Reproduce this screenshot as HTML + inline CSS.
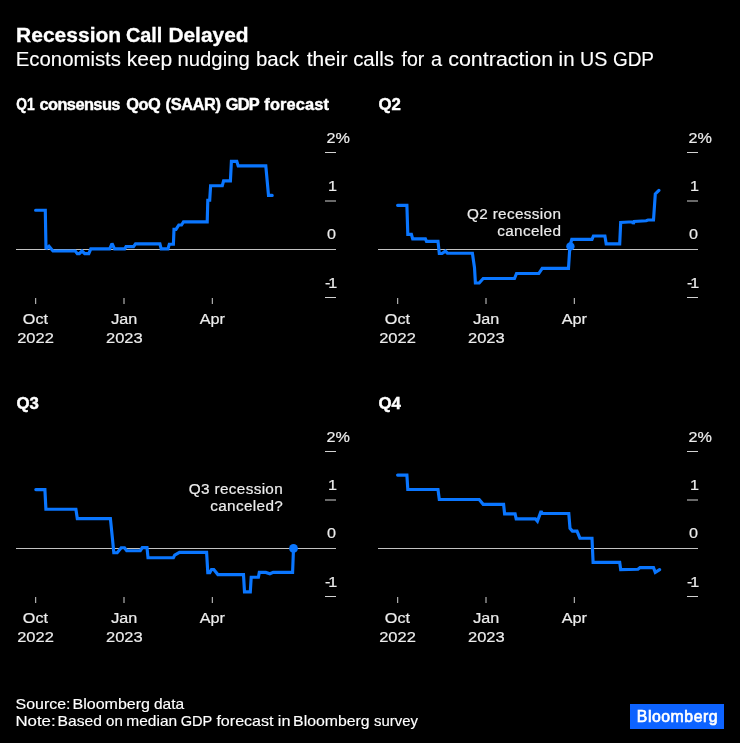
<!DOCTYPE html>
<html><head><meta charset="utf-8"><title>Recession Call Delayed</title>
<style>
html,body{margin:0;padding:0;background:#000;}
body{width:740px;height:743px;overflow:hidden;position:relative;font-family:"Liberation Sans",sans-serif;}
svg{position:absolute;left:0;top:0;display:block}
text{font-family:"Liberation Sans",sans-serif;}
.h1{font-weight:bold;font-size:20px;fill:#fff;stroke:#fff;stroke-width:0.3px}
.h2{font-size:19.5px;fill:#fff;stroke:#fff;stroke-width:0.12px}
.pt{font-weight:bold;font-size:16.4px;fill:#fff;stroke:#fff;stroke-width:0.45px}
.lb{font-size:15.5px;fill:#ececec;stroke:#ececec;stroke-width:0.2px}
.an{font-size:15.3px;fill:#ececec;letter-spacing:0.35px;stroke:#ececec;stroke-width:0.2px}
.ft{font-size:15px;fill:#fff;stroke:#fff;stroke-width:0.15px}
.ax{stroke:#d2d2d2;stroke-width:1;shape-rendering:crispEdges}
.ln{fill:none;stroke:#0a76ff;stroke-width:3.15;stroke-linejoin:miter;stroke-miterlimit:2;stroke-linecap:round}
.lg{font-size:15.8px;fill:#fff;letter-spacing:0.55px;stroke:#fff;stroke-width:0.65px}
</style></head>
<body>
<svg width="740" height="743" viewBox="0 0 740 743">
<rect width="740" height="743" fill="#000"/>
<text y="41.8" class="h1"><tspan x="16.12" textLength="105.04" lengthAdjust="spacingAndGlyphs">Recession</tspan> <tspan x="125.97" textLength="36.39" lengthAdjust="spacingAndGlyphs">Call</tspan> <tspan x="168.41" textLength="80.17" lengthAdjust="spacingAndGlyphs">Delayed</tspan></text>
<text y="66.4" class="h2"><tspan x="15.80" textLength="105.09" lengthAdjust="spacingAndGlyphs">Economists</tspan> <tspan x="126.74" textLength="45.59" lengthAdjust="spacingAndGlyphs">keep</tspan> <tspan x="177.54" textLength="72.19" lengthAdjust="spacingAndGlyphs">nudging</tspan> <tspan x="255.91" textLength="43.30" lengthAdjust="spacingAndGlyphs">back</tspan> <tspan x="306.71" textLength="40.67" lengthAdjust="spacingAndGlyphs">their</tspan> <tspan x="353.18" textLength="40.80" lengthAdjust="spacingAndGlyphs">calls</tspan> <tspan x="401.60" textLength="22.78" lengthAdjust="spacingAndGlyphs">for</tspan> <tspan x="431.11" textLength="11.10" lengthAdjust="spacingAndGlyphs">a</tspan> <tspan x="448.16" textLength="105.02" lengthAdjust="spacingAndGlyphs">contraction</tspan> <tspan x="558.61" textLength="15.95" lengthAdjust="spacingAndGlyphs">in</tspan> <tspan x="579.96" textLength="27.33" lengthAdjust="spacingAndGlyphs">US</tspan> <tspan x="612.91" textLength="41.02" lengthAdjust="spacingAndGlyphs">GDP</tspan></text>
<line x1="325" x2="336" y1="152.5" y2="152.5" class="ax" style="shape-rendering:auto"/>
<line x1="325" x2="336" y1="201" y2="201" class="ax" style="shape-rendering:auto"/>
<line x1="325" x2="336" y1="297.5" y2="297.5" class="ax" style="shape-rendering:auto"/>
<line x1="16" x2="336" y1="249.5" y2="249.5" class="ax" style="stroke:#c2c2c2"/>
<line x1="35.7" x2="35.7" y1="298" y2="304" class="ax" style="shape-rendering:auto"/>
<line x1="124.0" x2="124.0" y1="298" y2="304" class="ax" style="shape-rendering:auto"/>
<line x1="212.3" x2="212.3" y1="298" y2="304" class="ax" style="shape-rendering:auto"/>
<text transform="translate(326.40,142.90) scale(1.045,1)" class="lb">2%</text>
<text transform="translate(337.00,190.90) scale(1.045,1)" class="lb" text-anchor="end">1</text>
<text transform="translate(336.10,239.20) scale(1.045,1)" class="lb" text-anchor="end">0</text>
<text transform="translate(337.20,287.50) scale(1.045,1)" class="lb" text-anchor="end"><tspan>-</tspan><tspan dx="-2.2">1</tspan></text>
<text transform="translate(35.40,323.60) scale(1.045,1)" class="lb" text-anchor="middle">Oct</text>
<text transform="translate(35.50,343.10) scale(1.065,1)" class="lb" text-anchor="middle">2022</text>
<text transform="translate(124.20,323.60) scale(1.045,1)" class="lb" text-anchor="middle">Jan</text>
<text transform="translate(124.30,343.10) scale(1.065,1)" class="lb" text-anchor="middle">2023</text>
<text transform="translate(212.40,323.60) scale(1.045,1)" class="lb" text-anchor="middle">Apr</text>
<text y="110.3" class="pt"><tspan x="16.20" textLength="18.35" lengthAdjust="spacingAndGlyphs">Q1</tspan> <tspan x="39.47" textLength="80.96" lengthAdjust="spacing">consensus</tspan> <tspan x="126.15" textLength="34.70" lengthAdjust="spacing">QoQ</tspan> <tspan x="165.58" textLength="55.38" lengthAdjust="spacing">(SAAR)</tspan> <tspan x="225.78" textLength="33.49" lengthAdjust="spacing">GDP</tspan> <tspan x="264.32" textLength="64.71" lengthAdjust="spacing">forecast</tspan></text>
<path d="M35.6,210.2 H45.3 L46,249 L49,246.2 L53,251 H75.3 L77.3,253.6 H79.3 L82,251 L84.7,253.6 H88.8 L90.8,248.9 H109.7 L112,243.5 L114.5,248.9 H124.7 L126,246.6 H133.5 L135.5,243.9 H159.9 L161.2,248.9 H168 L169.3,244.2 H173.4 L174,229.3 H176 L178.8,225 H181.5 L183.5,221.9 H207.2 L207.8,200.2 H209.7 L210.6,185.7 H222.3 L223.6,180.8 H230.4 L231.4,161.4 H236.8 L238.2,165.9 H265.8 L268.5,195.4 H272.2" class="ln"/>

<line x1="687" x2="698" y1="152.5" y2="152.5" class="ax" style="shape-rendering:auto"/>
<line x1="687" x2="698" y1="201" y2="201" class="ax" style="shape-rendering:auto"/>
<line x1="687" x2="698" y1="297.5" y2="297.5" class="ax" style="shape-rendering:auto"/>
<line x1="378" x2="698" y1="249.5" y2="249.5" class="ax" style="stroke:#c2c2c2"/>
<line x1="397.7" x2="397.7" y1="298" y2="304" class="ax" style="shape-rendering:auto"/>
<line x1="486.0" x2="486.0" y1="298" y2="304" class="ax" style="shape-rendering:auto"/>
<line x1="574.3" x2="574.3" y1="298" y2="304" class="ax" style="shape-rendering:auto"/>
<text transform="translate(688.40,142.90) scale(1.045,1)" class="lb">2%</text>
<text transform="translate(699.00,190.90) scale(1.045,1)" class="lb" text-anchor="end">1</text>
<text transform="translate(698.10,239.20) scale(1.045,1)" class="lb" text-anchor="end">0</text>
<text transform="translate(699.20,287.50) scale(1.045,1)" class="lb" text-anchor="end"><tspan>-</tspan><tspan dx="-2.2">1</tspan></text>
<text transform="translate(397.40,323.60) scale(1.045,1)" class="lb" text-anchor="middle">Oct</text>
<text transform="translate(397.50,343.10) scale(1.065,1)" class="lb" text-anchor="middle">2022</text>
<text transform="translate(486.20,323.60) scale(1.045,1)" class="lb" text-anchor="middle">Jan</text>
<text transform="translate(486.30,343.10) scale(1.065,1)" class="lb" text-anchor="middle">2023</text>
<text transform="translate(574.40,323.60) scale(1.045,1)" class="lb" text-anchor="middle">Apr</text>
<text x="378.5" y="110.3" class="pt" textLength="22.4" lengthAdjust="spacingAndGlyphs">Q2</text>
<path d="M397.6,205.3 H406.9 L407.8,234.3 H411.4 L412.7,238.9 H425.4 L426.5,241.4 H438 L439.3,253.5 H442 L445.4,251.1 L447.4,253.2 H472.4 L474.5,267.7 L475.4,283 H479.2 L483.2,278.5 H514.5 L516.5,273.5 H538.8 L542.2,268.4 H568.5 L569.9,246.1 L571.8,239.3 H592 L593.4,236 H604.9 L606.2,243.8 H619.7 L620.7,222.4 L632.6,221.8 L633.2,223.8 L634.2,221.5 L646.1,220.7 L648.1,220 H653.5 L655.3,194 L658.9,190.4" class="ln"/>
<circle cx="570.4" cy="246.4" r="4.2" fill="#0a76ff"/><text x="561.3" y="219.1" class="an" text-anchor="end">Q2 recession</text><text x="561.3" y="236.1" class="an" text-anchor="end">canceled</text>
<line x1="325" x2="336" y1="451.5" y2="451.5" class="ax" style="shape-rendering:auto"/>
<line x1="325" x2="336" y1="500" y2="500" class="ax" style="shape-rendering:auto"/>
<line x1="325" x2="336" y1="596.5" y2="596.5" class="ax" style="shape-rendering:auto"/>
<line x1="16" x2="336" y1="548.5" y2="548.5" class="ax" style="stroke:#c2c2c2"/>
<line x1="35.7" x2="35.7" y1="597" y2="603" class="ax" style="shape-rendering:auto"/>
<line x1="124.0" x2="124.0" y1="597" y2="603" class="ax" style="shape-rendering:auto"/>
<line x1="212.3" x2="212.3" y1="597" y2="603" class="ax" style="shape-rendering:auto"/>
<text transform="translate(326.40,441.90) scale(1.045,1)" class="lb">2%</text>
<text transform="translate(337.00,489.90) scale(1.045,1)" class="lb" text-anchor="end">1</text>
<text transform="translate(336.10,538.20) scale(1.045,1)" class="lb" text-anchor="end">0</text>
<text transform="translate(337.20,586.50) scale(1.045,1)" class="lb" text-anchor="end"><tspan>-</tspan><tspan dx="-2.2">1</tspan></text>
<text transform="translate(35.40,622.60) scale(1.045,1)" class="lb" text-anchor="middle">Oct</text>
<text transform="translate(35.50,642.10) scale(1.065,1)" class="lb" text-anchor="middle">2022</text>
<text transform="translate(124.20,622.60) scale(1.045,1)" class="lb" text-anchor="middle">Jan</text>
<text transform="translate(124.30,642.10) scale(1.065,1)" class="lb" text-anchor="middle">2023</text>
<text transform="translate(212.40,622.60) scale(1.045,1)" class="lb" text-anchor="middle">Apr</text>
<text x="16.5" y="409.3" class="pt" textLength="22.4" lengthAdjust="spacingAndGlyphs">Q3</text>
<path d="M35.8,489.6 H44.9 L45.9,509.2 H75.9 L77.3,518.6 H110.4 L112.4,538.2 L113.8,552.7 H117.2 L121.2,547.7 H124.5 L126.7,550.7 H140.3 L142.3,547.6 H147 L148,557.7 H173.4 L174.7,555.1 L179.5,552.4 H206.6 L207.8,572.6 H209.8 L211.5,569.5 H213.8 L217.9,574.6 H243.5 L244.5,591.8 H250.3 L251.2,577.2 H258.4 L259.3,572.4 H265.8 L269.9,573.8 L273.2,572.4 H292.6 L293.5,548.5" class="ln"/>
<circle cx="293.5" cy="548.4" r="4.4" fill="#0a76ff"/><text x="283.1" y="494.1" class="an" text-anchor="end">Q3 recession</text><text x="283.1" y="511.1" class="an" text-anchor="end">canceled?</text>
<line x1="687" x2="698" y1="451.5" y2="451.5" class="ax" style="shape-rendering:auto"/>
<line x1="687" x2="698" y1="500" y2="500" class="ax" style="shape-rendering:auto"/>
<line x1="687" x2="698" y1="596.5" y2="596.5" class="ax" style="shape-rendering:auto"/>
<line x1="378" x2="698" y1="548.5" y2="548.5" class="ax" style="stroke:#c2c2c2"/>
<line x1="397.7" x2="397.7" y1="597" y2="603" class="ax" style="shape-rendering:auto"/>
<line x1="486.0" x2="486.0" y1="597" y2="603" class="ax" style="shape-rendering:auto"/>
<line x1="574.3" x2="574.3" y1="597" y2="603" class="ax" style="shape-rendering:auto"/>
<text transform="translate(688.40,441.90) scale(1.045,1)" class="lb">2%</text>
<text transform="translate(699.00,489.90) scale(1.045,1)" class="lb" text-anchor="end">1</text>
<text transform="translate(698.10,538.20) scale(1.045,1)" class="lb" text-anchor="end">0</text>
<text transform="translate(699.20,586.50) scale(1.045,1)" class="lb" text-anchor="end"><tspan>-</tspan><tspan dx="-2.2">1</tspan></text>
<text transform="translate(397.40,622.60) scale(1.045,1)" class="lb" text-anchor="middle">Oct</text>
<text transform="translate(397.50,642.10) scale(1.065,1)" class="lb" text-anchor="middle">2022</text>
<text transform="translate(486.20,622.60) scale(1.045,1)" class="lb" text-anchor="middle">Jan</text>
<text transform="translate(486.30,642.10) scale(1.065,1)" class="lb" text-anchor="middle">2023</text>
<text transform="translate(574.40,622.60) scale(1.045,1)" class="lb" text-anchor="middle">Apr</text>
<text x="378.5" y="409.3" class="pt" textLength="22.4" lengthAdjust="spacingAndGlyphs">Q4</text>
<path d="M397.6,475.1 H406.9 L407.8,489.5 H438 L439.3,499.5 H479.2 L483.2,504.3 H503.6 L504.6,513.8 H515.1 L516.2,518.9 H535.4 L537.4,521.2 L541.1,511.1 L542.2,513.5 H568.8 L570,528.4 L572.4,531.1 H577 L579.9,538.2 H592 L593.1,562.4 H619.7 L620.7,569.6 L638,569.2 L640,567.6 H653.5 L655.3,572.3 L659.6,569.6" class="ln"/>

<text y="708.5" class="ft"><tspan x="15.56" textLength="54.92" lengthAdjust="spacingAndGlyphs">Source:</tspan> <tspan x="72.52" textLength="77.53" lengthAdjust="spacingAndGlyphs">Bloomberg</tspan> <tspan x="154.00" textLength="30.18" lengthAdjust="spacingAndGlyphs">data</tspan></text>
<text y="725.5" class="ft"><tspan x="15.40" textLength="40.22" lengthAdjust="spacingAndGlyphs">Note:</tspan> <tspan x="57.64" textLength="44.43" lengthAdjust="spacingAndGlyphs">Based</tspan> <tspan x="106.02" textLength="16.74" lengthAdjust="spacingAndGlyphs">on</tspan> <tspan x="126.39" textLength="50.75" lengthAdjust="spacingAndGlyphs">median</tspan> <tspan x="180.71" textLength="31.39" lengthAdjust="spacingAndGlyphs">GDP</tspan> <tspan x="216.42" textLength="57.15" lengthAdjust="spacingAndGlyphs">forecast</tspan> <tspan x="277.81" textLength="12.59" lengthAdjust="spacingAndGlyphs">in</tspan> <tspan x="293.13" textLength="76.56" lengthAdjust="spacingAndGlyphs">Bloomberg</tspan> <tspan x="374.02" textLength="43.89" lengthAdjust="spacingAndGlyphs">survey</tspan></text>
<rect x="630" y="704" width="94" height="25" fill="#0d63ff"/>
<text x="636.8" y="721.8" class="lg">Bloomberg</text>
</svg>
</body></html>
